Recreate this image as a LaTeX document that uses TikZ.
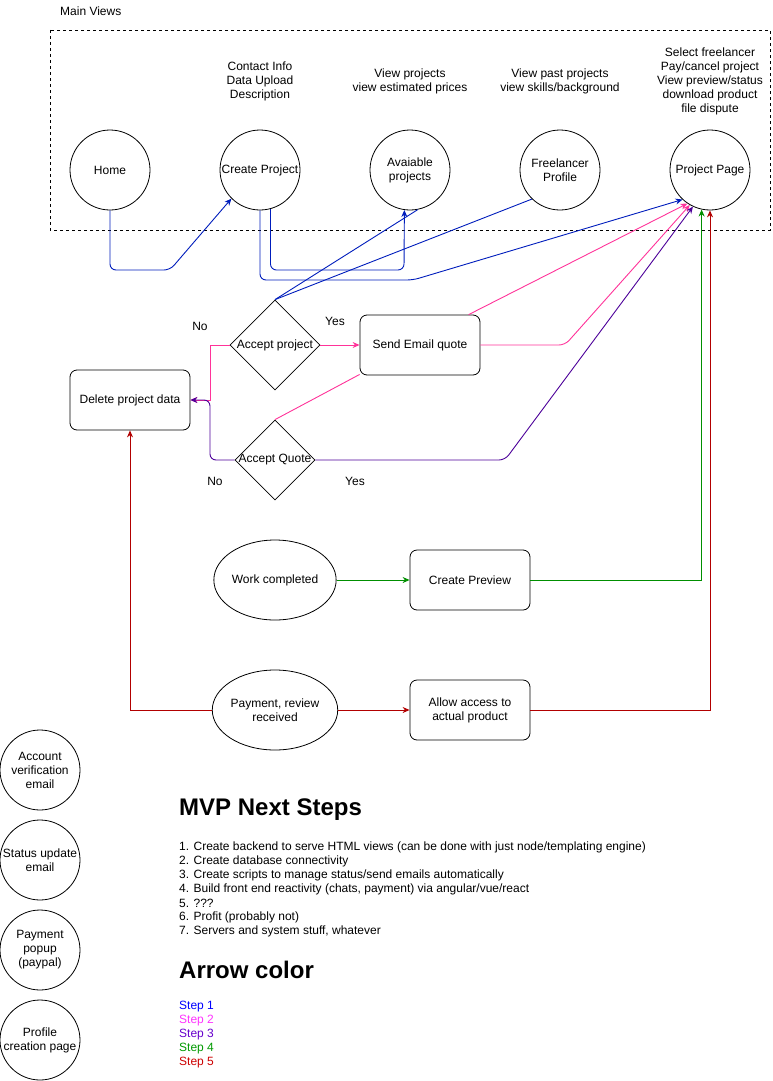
\documentclass[tikz,border=0pt]{standalone}
\usepackage{fontspec}
\setmainfont{Liberation Sans}
\usetikzlibrary{shapes.geometric,arrows.meta,calc}
\definecolor{cblue}{HTML}{001DBC}
\definecolor{cpink}{HTML}{FF3399}
\definecolor{cpurple}{HTML}{4C0099}
\definecolor{cgreen}{HTML}{008F00}
\definecolor{cred}{HTML}{B20000}
\definecolor{lblue}{HTML}{0000FF}
\definecolor{lpink}{HTML}{FF33FF}
\definecolor{lpurple}{HTML}{6600CC}
\definecolor{lgreen}{HTML}{009900}
\definecolor{lred}{HTML}{CC0000}
\begin{document}
\begin{tikzpicture}[x=1pt,y=-1pt,
  every node/.style={font=\fontsize{12}{14}\selectfont, inner sep=0pt, align=center},
  view/.style={circle,draw,line width=0.8pt,minimum size=80pt},
  box/.style={rectangle,draw,line width=0.8pt,rounded corners=7pt,minimum width=120pt,minimum height=60pt},
  dec/.style={diamond,draw,line width=0.8pt,minimum width=#1,minimum height=#1},
  oval/.style={ellipse,draw,line width=0.8pt,minimum width=120pt,minimum height=80pt},
  con/.style={line width=0.9pt},
  arr/.style={con,-{Stealth[length=7pt,width=6pt]}},
  heading/.style={anchor=west,font=\fontsize{24}{28}\selectfont\bfseries},
  item/.style={anchor=west,align=left}
]
\useasboundingbox (0,0) rectangle (772,1081);

% main views frame
\draw[line width=0.8pt,dash pattern=on 3pt off 3pt] (50,30) rectangle (770,230);
\node[anchor=west] (mv) at (60,11) {Main Views};

% views
\node[view] (home) at (110,170) {Home};
\node[view] (cp) at (260,170) {Create Project};
\node[view] (av) at (410,170) {Avaiable\\projects};
\node[view] (fp) at (560,170) {Freelancer\\Profile};
\node[view] (pp) at (710,170) {Project Page};

\node (t1) at (260,81) {Contact Info\\Data Upload\\Description};
\node (t2) at (410,81) {View projects\\view estimated prices};
\node (t3) at (560,81) {View past projects\\view skills/background};
\node (t4) at (710,81) {Select freelancer\\Pay/cancel project\\View preview/status\\download product\\file dispute};

% decision flow
\node[dec=90pt,label={center:Accept project}] (ap) at (275,345) {};
\node[dec=80pt,label={center:Accept Quote}] (aq) at (275,460) {};
\node[box] (se) at (420,345) {Send Email quote};
\node[box] (del) at (130,400) {Delete project data};
\node (no1) at (200,326) {No};
\node (yes1) at (335,321) {Yes};
\node (no2) at (215,481) {No};
\node (yes2) at (355,481) {Yes};

\node[oval] (wc) at (275,580) {Work completed};
\node[box] (cpv) at (470,580) {Create Preview};
\node[oval] (pay) at (275,710) {Payment, review\\received};
\node[box] (aa) at (470,710) {Allow access to\\actual product};

% side circles
\node[view] (acc) at (40,770) {Account\\verification\\email};
\node[view] (stat) at (40,860) {Status update\\email};
\node[view] (payp) at (40,950) {Payment\\popup\\(paypal)};
\node[view] (prof) at (40,1040) {Profile\\creation page};

% text
\node[heading] (h1) at (179,810) {MVP Next Steps};
\node[item] (l1) at (179,847) {1. Create backend to serve HTML views (can be done with just node/templating engine)};
\node[item] (l2) at (179,861) {2. Create database connectivity};
\node[item] (l3) at (179,875) {3. Create scripts to manage status/send emails automatically};
\node[item] (l4) at (179,889) {4. Build front end reactivity (chats, payment) via angular/vue/react};
\node[item] (l5) at (179,903) {5. ???};
\node[item] (l6) at (179,917) {6. Profit (probably not)};
\node[item] (l7) at (179,931) {7. Servers and system stuff, whatever};
\node[heading] (h2) at (179,970) {Arrow color};
\node[item,text=lblue] (s1) at (179,1007) {Step 1};
\node[item,text=lpink] (s2) at (179,1021) {Step 2};
\node[item,text=lpurple] (s3) at (179,1035) {Step 3};
\node[item,text=lgreen] (s4) at (179,1049) {Step 4};
\node[item,text=lred] (s5) at (179,1063) {Step 5};

% helper coordinates
\coordinate (b1) at (170,270);
\coordinate (b2) at (404,270);
\coordinate (b3) at (413,280);
\coordinate (jx) at (210,400);
\coordinate (p2) at (565,345);
\coordinate (q2) at (505,460);

% step 1 (blue)
\draw[arr,cblue,rounded corners=6pt] (home.south) |- (b1) -- (cp.225);
\draw[arr,cblue,rounded corners=6pt] (cp.-75.5) |- (b2) -- (av.-98.6);
\draw[arr,cblue,rounded corners=6pt] (cp.south) |- (b3) -- (pp.227);
\draw[con,cblue] (ap.north) -- (av.281.5);
\draw[con,cblue] (ap.north) -- (fp.226);

% step 2 (pink)
\draw[arr,cpink] (ap.east) -- (se.west);
\draw[arr,cpink] (ap.west) -| (jx) -- (del.east);
\draw[arr,cpink] (se.32) -- (pp.236);
\draw[arr,cpink,rounded corners=6pt] (se.east) -- (p2) -- (pp.240);
\draw[con,cpink] (aq.north) -- (se.206);

% step 3 (purple)
\draw[arr,cpurple,rounded corners=6pt] (aq.west) -| (jx) -- (del.east);
\draw[arr,cpurple,rounded corners=6pt] (aq.east) -- (q2) -- (pp.245);

% step 4 (green)
\draw[arr,cgreen] (wc.east) -- (cpv.west);
\draw[arr,cgreen] (cpv.east) -| (pp.258.5);

% step 5 (red)
\draw[arr,cred] (pay.west) -| (del.south);
\draw[arr,cred] (pay.east) -- (aa.west);
\draw[arr,cred] (aa.east) -| (pp.south);
\end{tikzpicture}
\end{document}
